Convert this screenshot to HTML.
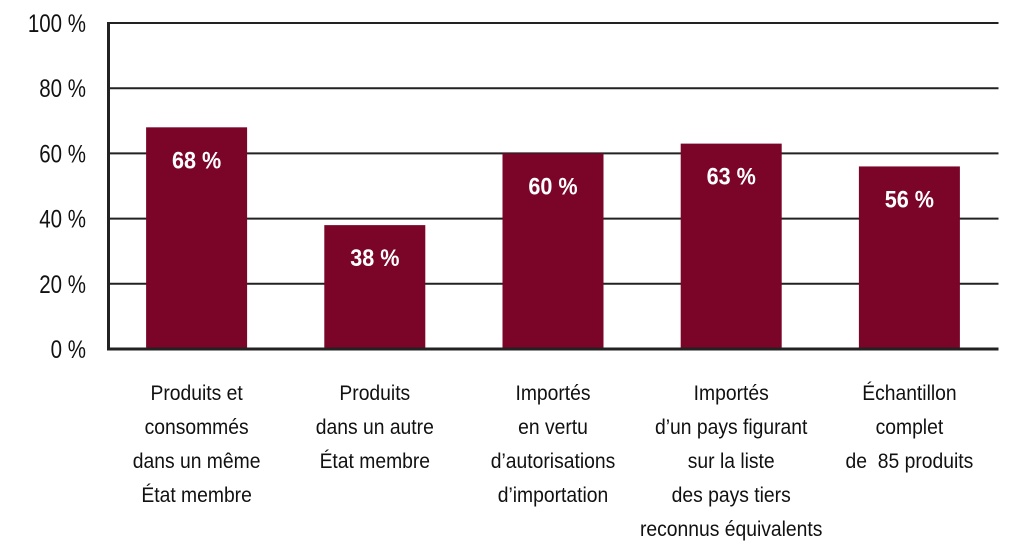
<!DOCTYPE html>
<html><head><meta charset="utf-8"><style>
html,body{margin:0;padding:0;background:#fff;}
svg{display:block;}
text{font-family:"Liberation Sans Narrow","Liberation Sans",sans-serif;}
</style></head><body>
<svg id="chart" width="1027" height="550"></svg>
<script>
const categories = [
  ["Produits et","consommés","dans un même","État membre"],
  ["Produits","dans un autre","État membre"],
  ["Importés","en vertu","d’autorisations","d’importation"],
  ["Importés","d’un pays figurant","sur la liste","des pays tiers","reconnus équivalents"],
  ["Échantillon","complet","de\u00a0 85 produits"]
];
const values = [68, 38, 60, 63, 56];
const valueLabels = ["68 %","38 %","60 %","63 %","56 %"];
const ticks = [0, 20, 40, 60, 80, 100];
const tickLabels = ["0 %","20 %","40 %","60 %","80 %","100 %"];

const NS = "http://www.w3.org/2000/svg";
const svg = document.getElementById("chart");
const X0 = 107.5, X1 = 998.5, Y0 = 349, Y1 = 23;
const bandW = (X1 - X0) / categories.length;
const barW = 101;
function y(v){ return Y0 - (v / 100) * (Y0 - Y1); }
function xc(i){ return X0 + bandW * (i + 0.5); }
function mk(tag, attrs){ const e = document.createElementNS(NS, tag); for (const k in attrs) e.setAttribute(k, attrs[k]); svg.appendChild(e); return e; }
function txt(x, yy, sx, attrs){ attrs.transform = "translate(" + x + "," + yy + ") scale(" + sx + ",1)"; attrs.x = 0; attrs.y = 0; return mk("text", attrs); }

ticks.forEach((t, i) => {
  if (t > 0) {
    const g = mk("line", {x1: X0, x2: X1, y1: y(t), y2: y(t), stroke: "#222", "stroke-width": 2});
    
    
  }
  const tl = txt(86, y(t) + 9, 0.82, {"text-anchor": "end", "font-size": 25, fill: "#111"});
  tl.textContent = tickLabels[i];
  
  
});

values.forEach((v, i) => {
  const b = mk("rect", {x: xc(i) - barW / 2, y: y(v), width: barW, height: Y0 - y(v), fill: "#7a0529"});
  
  
  const vl = txt(xc(i), y(v) + 41, 0.9, {"text-anchor": "middle", "font-size": 24, "font-weight": "bold", fill: "#fff"});
  vl.textContent = valueLabels[i];
  
  
  categories[i].forEach((line, j) => {
    const c = txt(xc(i), 400 + j * 34, 0.92, {"text-anchor": "middle", "font-size": 21, fill: "#111"});
    c.textContent = line;
    
    
  });
});

const ya = mk("line", {x1: X0 + 1, x2: X0 + 1, y1: Y1 - 1, y2: Y0 + 1.5, stroke: "#222", "stroke-width": 3});


const xa = mk("line", {x1: X0 - 0.5, x2: X1, y1: Y0, y2: Y0, stroke: "#222", "stroke-width": 3});


</script>
</body></html>
